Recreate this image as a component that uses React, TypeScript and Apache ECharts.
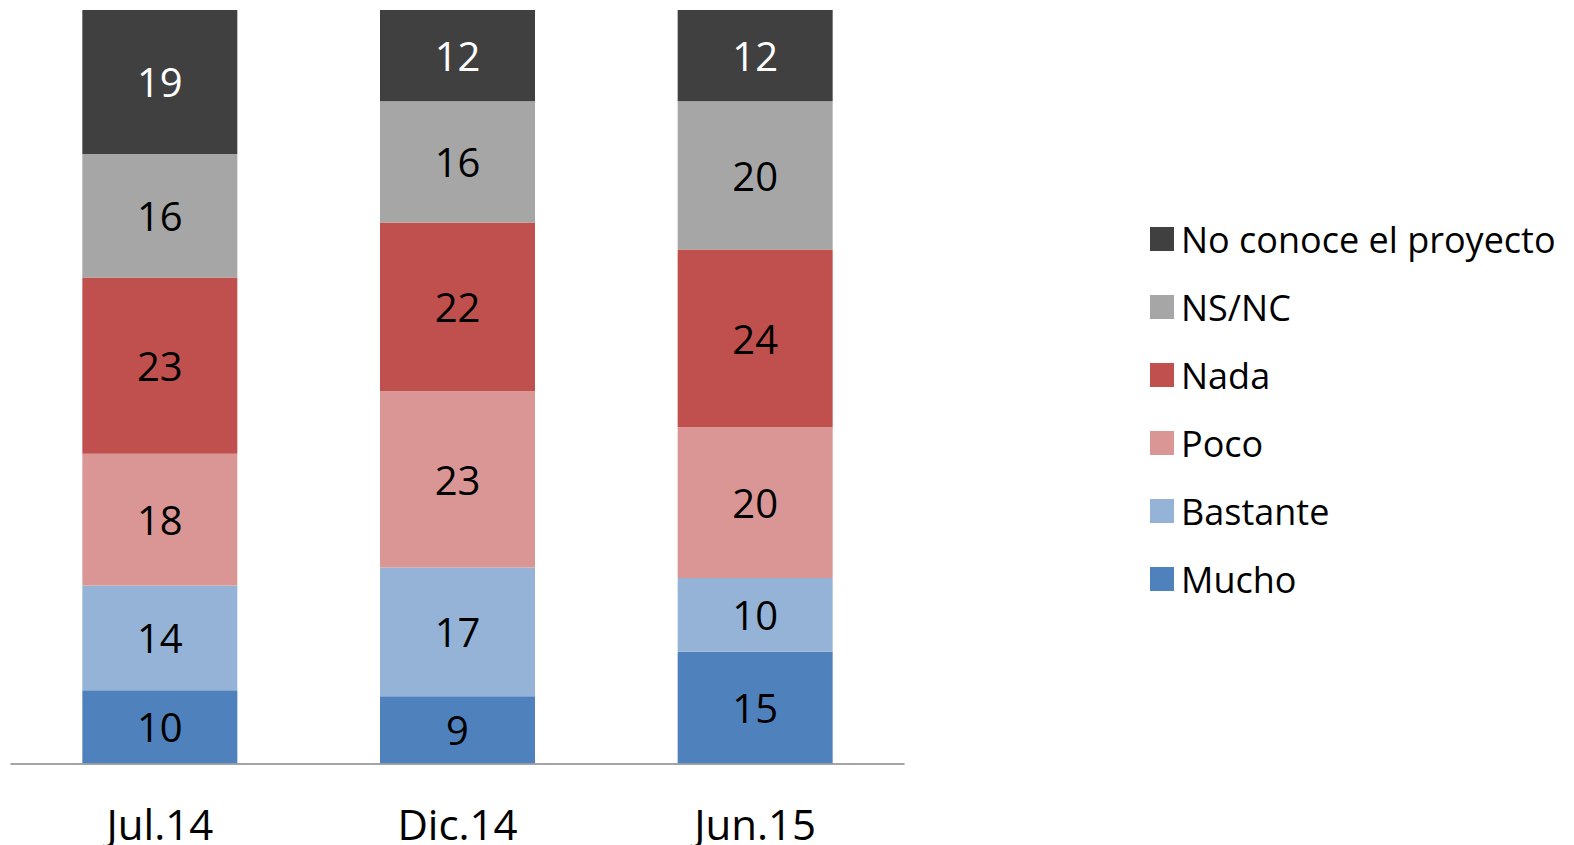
import React, { useEffect, useRef } from "react";
import * as echarts from "echarts";

const categories = ["Jul.14", "Dic.14", "Jun.15"];
const mucho = [9.7, 8.9, 14.8];
const bastante = [13.9, 17.1, 9.8];
const poco = [17.5, 23.4, 20.0];
const nada = [23.4, 22.4, 23.6];
const nsnc = [16.4, 16.1, 19.7];
const noConoce = [19.1, 12.1, 12.1];

const seriesDefs = [
  { name: "Mucho", data: mucho, color: "#4F81BD", label: "#000000" },
  { name: "Bastante", data: bastante, color: "#95B3D7", label: "#000000" },
  { name: "Poco", data: poco, color: "#DA9694", label: "#000000" },
  { name: "Nada", data: nada, color: "#C0504D", label: "#000000" },
  { name: "NS/NC", data: nsnc, color: "#A6A6A6", label: "#000000" },
  { name: "No conoce el proyecto", data: noConoce, color: "#404040", label: "#FFFFFF" },
];

const FONT = "'Open Sans', 'Noto Sans', sans-serif";

export default function App() {
  const ref = useRef<HTMLDivElement>(null);
  useEffect(() => {
    if (!ref.current) return;
    const chart = echarts.init(ref.current, undefined, { renderer: "svg" });
    chart.setOption({
      animation: false,
      backgroundColor: "#FFFFFF",
      grid: { left: 11, right: 670, top: 10, bottom: 81.7, containLabel: false },
      legend: {
        orient: "vertical",
        left: 1145,
        top: 214,
        itemWidth: 24,
        itemHeight: 24,
        itemGap: 28,
        icon: "rect",
        data: seriesDefs.map((s) => s.name).reverse(),
        textStyle: { fontFamily: FONT, fontSize: 36, color: "#000000", lineHeight: 40, padding: [0, 0, 0, 2] },
      },
      xAxis: {
        type: "category",
        data: categories,
        axisTick: { show: false },
        axisLine: { lineStyle: { color: "#868686", width: 1.5 } },
        axisLabel: { fontFamily: FONT, fontSize: 42, lineHeight: 42, color: "#000000", margin: 39 },
      },
      yAxis: {
        type: "value",
        min: 0,
        max: 100,
        show: false,
        splitLine: { show: false },
      },
      series: seriesDefs.map((s) => ({
        name: s.name,
        type: "bar",
        stack: "total",
        barWidth: 155,
        data: s.data,
        itemStyle: { color: s.color },
        label: {
          show: true,
          position: "inside",
          fontFamily: FONT,
          fontSize: 40,
          color: s.label,
          formatter: (p: any) => String(Math.round(p.value)),
        },
      })),
    });
    return () => chart.dispose();
  }, []);
  return (
    <div
      ref={ref}
      style={{ position: "fixed", left: 0, top: 0, width: 1574, height: 845 }}
    />
  );
}
